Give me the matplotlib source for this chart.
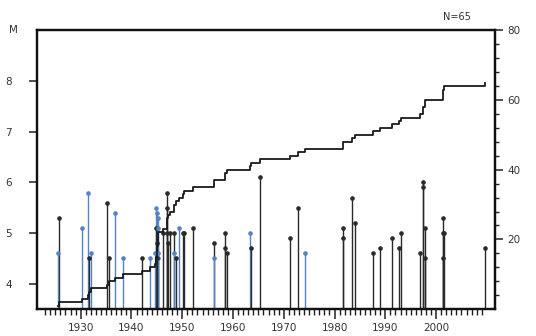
import numpy as np
import matplotlib
matplotlib.use("Agg")
import matplotlib.pyplot as plt
from matplotlib.ticker import FixedLocator

# ---- data ----
event_years = [1925.6, 1925.7, 1930.2, 1931.4, 1931.7, 1932.0, 1935.1, 1935.6, 1936.8, 1938.3,
               1942.0, 1943.6,
               1944.7, 1944.8, 1944.9, 1945.0, 1945.0, 1945.1, 1945.2, 1945.2, 1945.3, 1945.3,
               1946.3, 1947.1, 1947.1, 1947.1, 1947.2, 1947.6, 1948.4, 1948.4, 1948.8, 1949.4,
               1950.1, 1950.4, 1952.2, 1956.3, 1956.3, 1958.4, 1958.4, 1958.8, 1963.4, 1963.5,
               1965.3, 1971.2, 1972.8, 1974.1, 1981.7, 1981.7, 1983.4, 1984.0, 1987.6, 1989.0,
               1991.3, 1992.6, 1993.0, 1996.8, 1997.5, 1997.5, 1997.9, 1997.9,
               2001.4, 2001.4, 2001.5, 2001.4, 2009.6]
event_mags = [4.6, 5.3, 5.1, 5.8, 4.5, 4.6, 5.6, 4.5, 5.4, 4.5,
              4.5, 4.5,
              4.6, 5.5, 5.1, 4.8, 4.5, 5.4, 5.3, 4.6, 5.1, 4.5,
              5.0, 5.8, 5.5, 5.0, 4.8, 5.0, 5.0, 4.6, 4.5, 5.1,
              5.0, 5.0, 5.1, 4.8, 4.5, 5.0, 4.7, 4.6, 5.0, 4.7,
              6.1, 4.9, 5.5, 4.6, 5.1, 4.9, 5.7, 5.2, 4.6, 4.7,
              4.9, 4.7, 5.0, 4.6, 6.0, 5.9, 5.1, 4.5,
              5.3, 5.0, 5.0, 4.5, 4.7]
event_types = ['b', 'k', 'b', 'b', 'k', 'b', 'k', 'k', 'b', 'b',
               'k', 'b',
               'b', 'b', 'k', 'k', 'k', 'b', 'b', 'b', 'b', 'b',
               'k', 'k', 'k', 'k', 'k', 'k', 'k', 'b', 'k', 'b',
               'k', 'k', 'k', 'k', 'b', 'k', 'k', 'k', 'b', 'k',
               'k', 'k', 'k', 'b', 'k', 'k', 'k', 'k', 'k', 'k',
               'k', 'k', 'k', 'k', 'k', 'k', 'k', 'k',
               'k', 'k', 'k', 'k', 'k']
m_ticks = [4, 5, 6, 7, 8]
count_ticks = [20, 40, 60, 80]
year_ticks = [1930, 1940, 1950, 1960, 1970, 1980, 1990, 2000]

color_map = {'b': '#5583c4', 'k': '#2a2a2a'}

fig = plt.figure(figsize=(5.36, 3.36), dpi=100)
ax = fig.add_axes([37/536, 1-309/336, (495-37)/536, (309-30.5)/336])
ax.set_xlim(1921.4, 2011.6)
ax.set_ylim(3.5, 9.0)

years = np.array(event_years)
mags = np.array(event_mags)
cols = [color_map[t] for t in event_types]

# stems: draw tallest first so shorter ones sit on top
order = np.argsort(-mags)
for i in order:
    ax.vlines(years[i], 3.5, mags[i], color=cols[i], lw=1.0, zorder=2)
    ax.plot(years[i], mags[i], 'o', ms=2.3, color=cols[i], zorder=3)

# cumulative count on right axis
ax2 = ax.twinx()
ax2.set_ylim(0, 80)
srt = np.sort(years)
counts = np.arange(1, len(srt) + 1)
ax2.plot(srt, counts, drawstyle='steps-post', color='#1a1a1a', lw=1.3, zorder=4)

# ticks and spines
for a in (ax, ax2):
    for s in a.spines.values():
        s.set_linewidth(1.6)
        s.set_color('#111111')

ax.set_yticks(m_ticks)
ax.set_yticklabels([str(t) for t in m_ticks])
ax.set_xticks(year_ticks)
ax.set_xticklabels([str(t) for t in year_ticks])
ax.xaxis.set_minor_locator(FixedLocator(np.arange(1923, 2010)))
ax.tick_params(axis='x', which='major', direction='out', length=7, width=1.2,
               labelsize=7.5, colors='#333333', pad=3)
ax.tick_params(axis='x', which='minor', direction='out', length=4, width=1.0, colors='#222222')
ax.tick_params(axis='y', which='major', direction='out', length=6, width=1.2,
               labelsize=7.5, colors='#333333', pad=12)

ax2.set_yticks(count_ticks)
ax2.set_yticklabels([str(t) for t in count_ticks])
ax2.yaxis.set_minor_locator(FixedLocator(np.arange(4, 80, 4)))
ax2.tick_params(axis='y', which='major', direction='out', length=6, width=1.2,
                labelsize=7.5, colors='#333333', pad=3)
ax2.tick_params(axis='y', which='minor', direction='out', length=3, width=1.0, colors='#222222')

fig.text(13/536, 1-30/336, 'M', ha='center', va='center', fontsize=7.5, color='#333333')
fig.text(457/536, 1-17/336, 'N=65', ha='center', va='center', fontsize=7, color='#333333')

fig.savefig('out.png', dpi=100)
